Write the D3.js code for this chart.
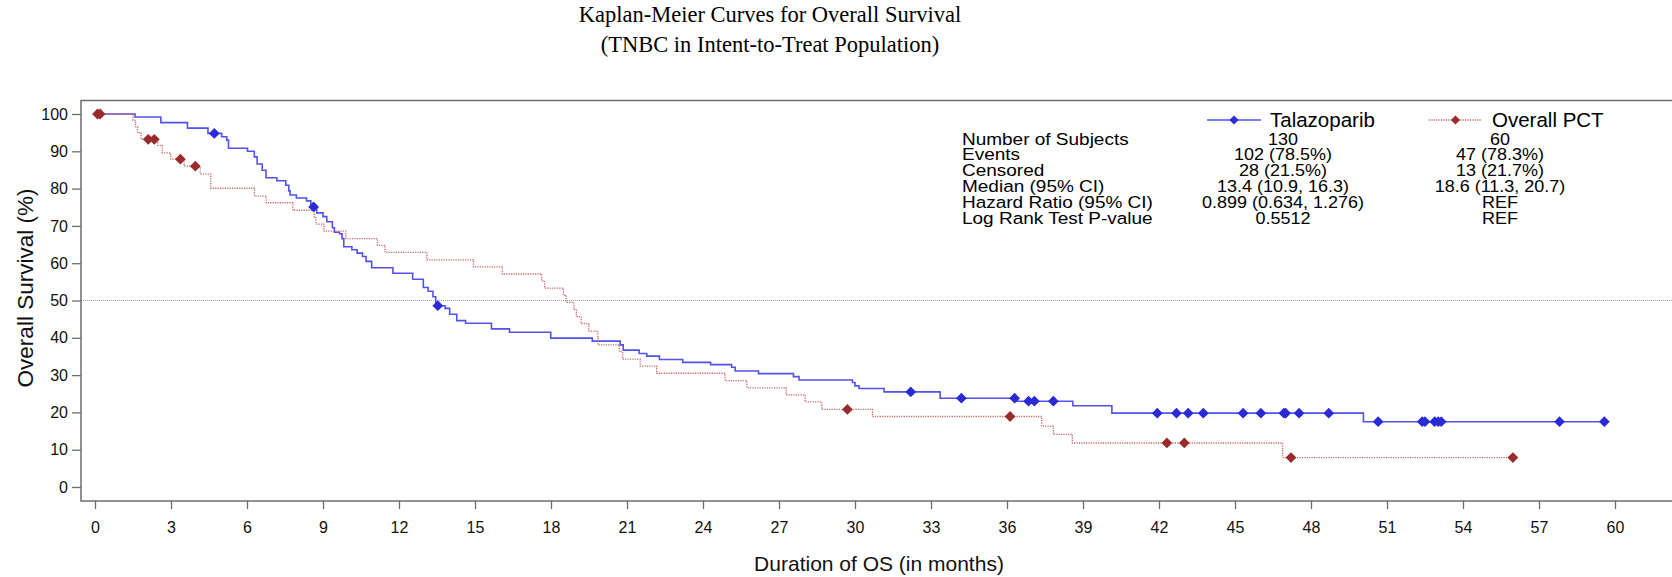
<!DOCTYPE html>
<html>
<head>
<meta charset="utf-8">
<script src="https://cdn.jsdelivr.net/npm/d3@7"></script>
<style>
  html, body { margin: 0; padding: 0; background: #fff; }
  svg { display: block; }
  text { font-family: "Liberation Sans", Arial, sans-serif; }
</style>
</head>
<body>
<svg id="chart" width="1672" height="577"></svg>
<script>
// ---------------- DATA ----------------
const titleLines = ["Kaplan-Meier Curves for Overall Survival", "(TNBC in Intent-to-Treat Population)"];
const xTicks = [0, 3, 6, 9, 12, 15, 18, 21, 24, 27, 30, 33, 36, 39, 42, 45, 48, 51, 54, 57, 60];
const yTicks = [0, 10, 20, 30, 40, 50, 60, 70, 80, 90, 100];
const seriesNames = ["Talazoparib", "Overall PCT"];

// Talazoparib: event times (months) and survival (%) after each step
const talaTimes = [0, 1.58, 2.6, 3.65, 4.46, 5.0, 5.2, 5.27, 6.02, 6.29, 6.4, 6.6, 6.75, 7.18, 7.53, 7.65, 7.7, 7.95, 8.35, 8.52,
  8.75, 9.0, 9.15, 9.37, 9.45, 9.65, 9.75, 9.82, 10.14, 10.35, 10.56, 10.7, 10.92, 11.76, 12.54, 12.96, 13.15, 13.34, 13.45,
  13.82, 14.0, 14.28, 14.63, 15.65, 16.36, 17.99, 19.63, 20.73, 20.85, 21.48, 21.78, 22.28, 23.2, 24.3, 25.13, 25.27, 26.19,
  27.57, 27.79, 29.9, 30.0, 30.16, 31.15, 33.36, 36.4, 38.6, 40.14, 50.07, 59.58];
const talaSurv = [100, 99.2, 97.7, 96.2, 94.8, 93.9, 93.0, 90.8, 90.0, 88.5, 86.6, 84.9, 82.9, 82.1, 80.9, 79.4, 78.3, 77.5, 76.7, 75.1,
  73.5, 72.5, 71.1, 69.5, 68.3, 67.9, 66.6, 64.4, 63.6, 62.7, 61.8, 60.5, 58.8, 57.3, 55.7, 53.5, 52.5, 51.0, 48.6,
  47.9, 46.3, 44.6, 43.9, 42.4, 41.5, 39.9, 39.1, 38.1, 36.7, 35.8, 35.1, 34.2, 33.4, 32.8, 32.1, 31.1, 30.4,
  29.6, 28.7, 28.0, 27.1, 26.4, 25.5, 23.8, 23.0, 21.8, 19.8, 17.5, 17.5];
const talaCensor = [4.71, 8.63, 13.53, 32.2, 34.2, 36.3, 36.85, 37.08, 37.83, 41.93, 42.69, 43.15, 43.75, 45.32, 46.02,
  46.93, 47.0, 47.53, 48.7, 50.65, 52.39, 52.5, 52.88, 53.02, 53.14, 57.81, 59.58];

// Overall PCT
const pctTimes = [0, 1.5, 1.6, 1.68, 1.82, 2.48, 2.65, 2.99, 3.52, 4.15, 4.57, 6.29, 6.76, 7.81, 8.66, 8.72, 9.04, 9.9,
  11.15, 11.45, 13.1, 14.94, 16.08, 17.63, 17.75, 18.49, 18.6, 18.9, 19.0, 19.19, 19.49, 19.85, 20.7, 20.83, 21.52,
  22.17, 24.87, 25.73, 27.28, 28.03, 28.69, 30.69, 37.37, 37.83, 38.58, 46.88, 55.97];
const pctSurv = [100, 98.3, 96.6, 95.0, 93.2, 91.6, 89.6, 87.9, 86.0, 83.9, 80.1, 78.0, 76.2, 74.2, 72.4, 70.5, 68.6, 66.6,
  64.8, 62.9, 60.9, 59.0, 57.1, 55.2, 53.3, 51.4, 49.5, 47.6, 45.7, 43.8, 41.8, 38.1, 36.3, 34.3, 32.4,
  30.5, 28.5, 26.6, 24.7, 22.8, 20.8, 18.9, 16.3, 14.1, 11.8, 7.9, 7.9];
const pctCensor = [0.1, 0.2, 2.1, 2.34, 3.37, 3.96, 29.7, 36.12, 42.31, 43.0, 47.21, 55.97];

// Summary table
const rowLabels = ["Number of Subjects", "Events", "Censored", "Median (95% CI)", "Hazard Ratio (95% CI)", "Log Rank Test P-value"];
const talaValues = ["130", "102 (78.5%)", "28 (21.5%)", "13.4 (10.9, 16.3)", "0.899 (0.634,  1.276)", "0.5512"];
const pctValues = ["60", "47 (78.3%)", "13 (21.7%)", "18.6 (11.3, 20.7)", "REF", "REF"];

const xLabel = "Duration of OS (in months)";
const yLabel = "Overall Survival (%)";

// ---------------- DRAW ----------------
const svg = d3.select("#chart");
const x = d3.scaleLinear().domain([0, 60]).range([95, 1615]);
const y = d3.scaleLinear().domain([0, 100]).range([487, 114]);

const frame = { left: 81, top: 100.5, bottom: 501, right: 1690 };

// title
svg.append("g").selectAll("text").data(titleLines).join("text")
  .attr("x", 770).attr("y", (d, i) => 22 + i * 30)
  .attr("text-anchor", "middle")
  .style("font-family", "'Liberation Serif', 'Times New Roman', serif")
  .style("font-size", "22.5px").attr("fill", "#000")
  .text(d => d);

// 50% reference line
svg.append("line")
  .attr("x1", frame.left).attr("x2", frame.right)
  .attr("y1", y(50)).attr("y2", y(50))
  .attr("stroke", "#a0a0a0").attr("stroke-width", 1).attr("stroke-dasharray", "1,1");

// frame
svg.append("rect")
  .attr("x", frame.left).attr("y", frame.top)
  .attr("width", frame.right - frame.left).attr("height", frame.bottom - frame.top)
  .attr("fill", "none").attr("stroke", "#6e6e6e").attr("stroke-width", 1.5);

// axes
const yAxis = svg.append("g").attr("transform", `translate(${frame.left},0)`)
  .call(d3.axisLeft(y).tickValues(yTicks).tickSize(9).tickPadding(4));
const xAxis = svg.append("g").attr("transform", `translate(0,${frame.bottom})`)
  .call(d3.axisBottom(x).tickValues(xTicks).tickSize(8).tickPadding(13));
[yAxis, xAxis].forEach(g => {
  g.select(".domain").remove();
  g.selectAll(".tick line").attr("stroke", "#6e6e6e").attr("stroke-width", 1.3);
  g.selectAll(".tick text").attr("fill", "#111")
    .style("font-family", "'Liberation Sans', Arial, sans-serif").style("font-size", "16px");
});

// axis labels
svg.append("text").attr("x", 879).attr("y", 571).attr("text-anchor", "middle")
  .style("font-size", "21px").attr("fill", "#111").text(xLabel);
svg.append("text").attr("transform", "translate(33,288) rotate(-90)").attr("text-anchor", "middle")
  .style("font-size", "22.5px").attr("fill", "#111").text(yLabel);

// curves
const line = d3.line().x(d => x(d[0])).y(d => y(d[1])).curve(d3.curveStepAfter);
const talaPts = talaTimes.map((t, i) => [t, talaSurv[i]]);
const pctPts = pctTimes.map((t, i) => [t, pctSurv[i]]);

const talaColor = "#5252ee", talaMarker = "#2a2ad6";
const pctColor = "#c86464", pctMarker = "#9b2b2b";

svg.append("path").datum(talaPts).attr("d", line)
  .attr("fill", "none").attr("stroke", talaColor).attr("stroke-width", 1.6);
svg.append("path").datum(pctPts).attr("d", line)
  .attr("fill", "none").attr("stroke", pctColor).attr("stroke-width", 1.3).attr("stroke-dasharray", "1.2,1.2");

function survAt(times, surv, t) {
  const i = d3.bisectRight(times, t) - 1;
  return surv[Math.max(0, i)];
}
const diamond = d3.symbol().type(d3.symbolSquare).size(58);

function drawCensor(times, surv, cens, color) {
  svg.append("g").selectAll("path").data(cens).join("path")
    .attr("d", diamond)
    .attr("transform", t => `translate(${x(t)},${y(survAt(times, surv, t))}) rotate(45)`)
    .attr("fill", color);
}
drawCensor(talaTimes, talaSurv, talaCensor, talaMarker);
drawCensor(pctTimes, pctSurv, pctCensor, pctMarker);

// legend
const legendY = 120;
const legend = [
  { name: seriesNames[0], x1: 1207, x2: 1261, tx: 1270, color: talaColor, marker: talaMarker, dash: null, w: 1.6 },
  { name: seriesNames[1], x1: 1429, x2: 1482, tx: 1492, color: pctColor, marker: pctMarker, dash: "1.2,1.2", w: 1.3 }
];
const lg = svg.append("g").selectAll("g").data(legend).join("g");
lg.append("line").attr("x1", d => d.x1).attr("x2", d => d.x2).attr("y1", legendY).attr("y2", legendY)
  .attr("stroke", d => d.color).attr("stroke-width", d => d.w).attr("stroke-dasharray", d => d.dash);
lg.append("path").attr("d", d3.symbol().type(d3.symbolSquare).size(42))
  .attr("transform", d => `translate(${(d.x1 + d.x2) / 2},${legendY}) rotate(45)`).attr("fill", d => d.marker);
lg.append("text").attr("x", d => d.tx).attr("y", legendY + 6.5)
  .style("font-size", "20.5px").attr("fill", "#000").text(d => d.name);

// table (text slightly compressed vertically as in the reference)
const rowY = i => 144.5 + i * 15.8;
const tbl = svg.append("g");
function addCol(cls, data, xPos, anchor, size) {
  tbl.selectAll("text." + cls).data(data).join("text").attr("class", cls)
    .attr("transform", (d, i) => `translate(${xPos},${rowY(i)}) scale(1,0.88)`)
    .attr("text-anchor", anchor)
    .style("font-size", size).attr("fill", "#000").text(d => d);
}
addCol("lab", rowLabels, 962, "start", "19px");
addCol("tv", talaValues, 1283, "middle", "18px");
addCol("pv", pctValues, 1500, "middle", "18px");
</script>
</body>
</html>
